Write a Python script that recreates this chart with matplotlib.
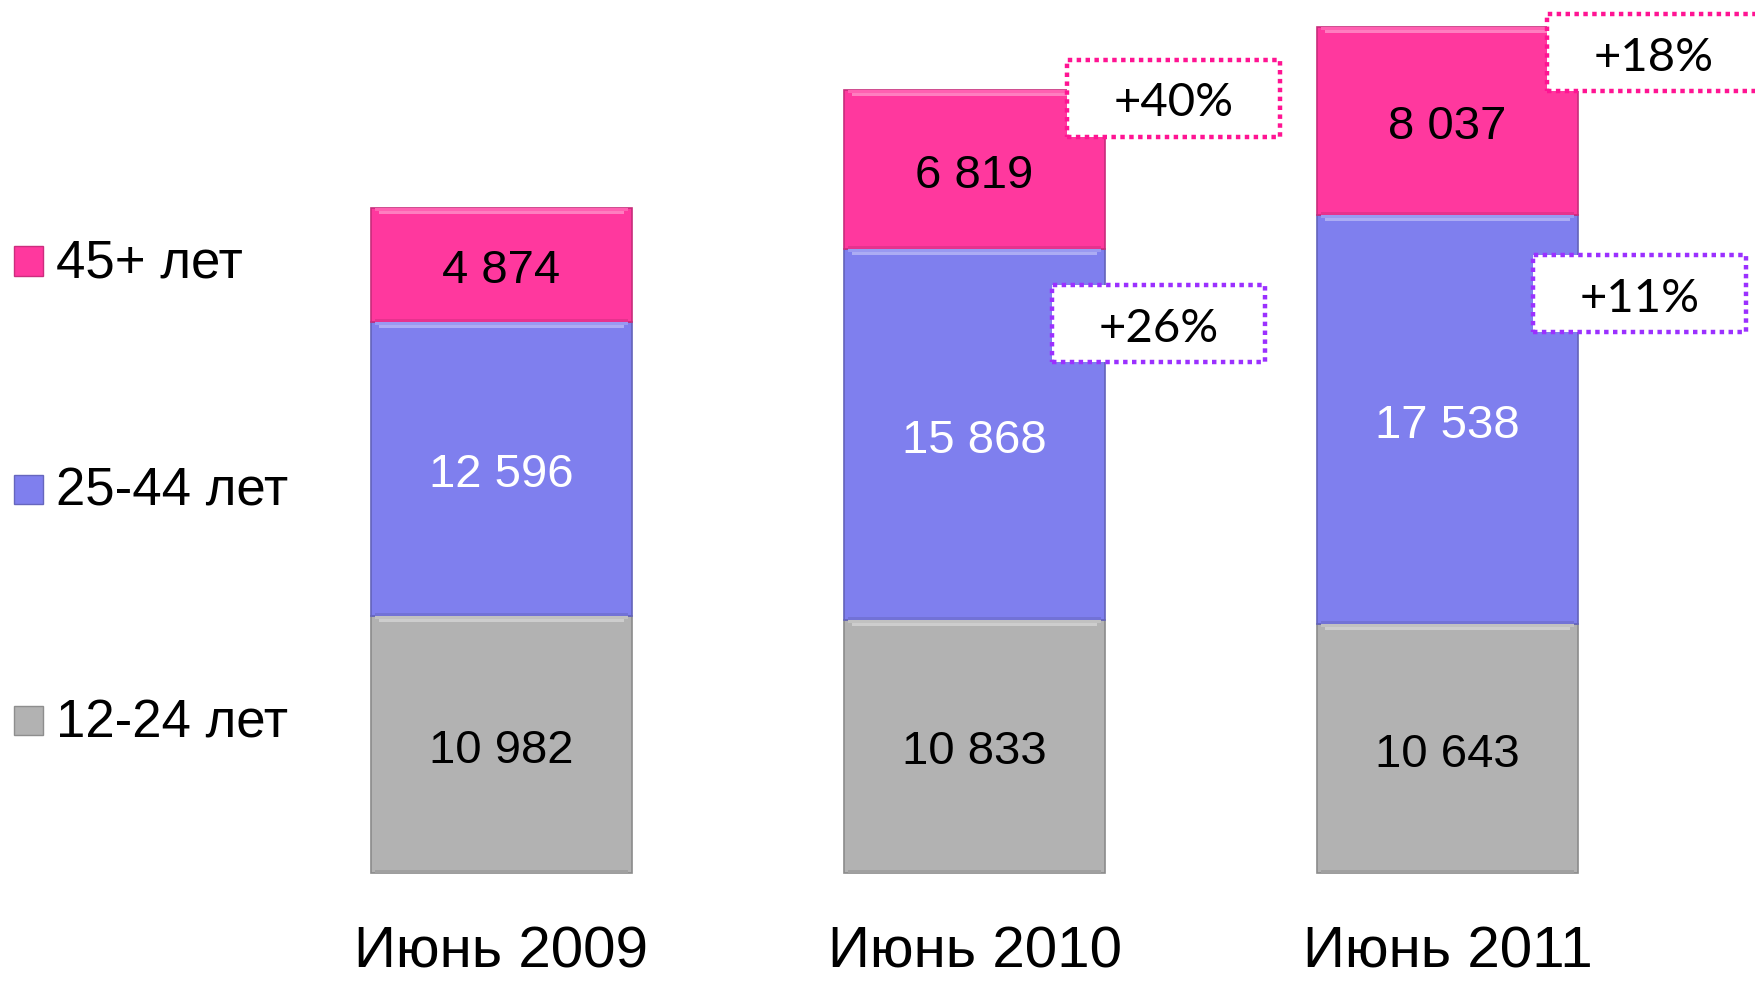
import numpy as np
import matplotlib.pyplot as plt
from matplotlib.patches import Rectangle
from matplotlib.colors import to_rgb

# Data
categories = ["Июнь 2009", "Июнь 2010", "Июнь 2011"]
series_names = ["12-24 лет", "25-44 лет", "45+ лет"]
age_12_24 = [10982, 10833, 10643]
age_25_44 = [12596, 15868, 17538]
age_45 = [4874, 6819, 8037]
growth_25_44 = ["", "+26%", "+11%"]
growth_45 = ["", "+40%", "+18%"]

colors = ["#B2B2B2", "#7F7FEE", "#FF389E"]
text_colors = ["black", "white", "black"]
box_colors = ["#9B30FF", "#FF1493"]


def fmt(v):
    return f"{v:,}".replace(",", " ")


def lighten(c, f):
    r, g, b = to_rgb(c)
    return (r + (1 - r) * f, g + (1 - g) * f, b + (1 - b) * f)


def darken(c, f):
    r, g, b = to_rgb(c)
    return (r * (1 - f), g * (1 - f), b * (1 - f))


W, H = 1756, 981
fig = plt.figure(figsize=(W / 100, H / 100), dpi=100)
ax = fig.add_axes([0, 0, 1, 1])

# pixel mapping: bar centres every 473 px starting at 501.5, baseline at y=873
px_per_unit = 0.02336
ax.set_xlim(-501.5 / 473, (W - 501.5) / 473)
ax.set_ylim(-(H - 873) / px_per_unit, 873 / px_per_unit)
ax.axis("off")


def dy(px):
    # vertical pixel offset in data units
    return px / px_per_unit


x = np.arange(len(categories))
width = 0.552
series = [age_12_24, age_25_44, age_45]
bottom = np.zeros(len(categories))

for vals, col, tc in zip(series, colors, text_colors):
    vals = np.array(vals, dtype=float)
    ax.bar(x, vals, width, bottom=bottom, color=col,
           edgecolor=darken(col, 0.22), linewidth=1.2, zorder=2)
    # bevel highlight on top of each segment
    ax.bar(x, np.full_like(vals, dy(3)), width * 0.94,
           bottom=bottom + vals - dy(6), color=lighten(col, 0.35),
           linewidth=0, zorder=3)
    ax.bar(x, np.full_like(vals, dy(3)), width * 0.97,
           bottom=bottom + vals - dy(3), color=lighten(col, 0.2),
           linewidth=0, zorder=3)
    # bevel shade at the bottom
    ax.bar(x, np.full_like(vals, dy(3)), width * 0.97,
           bottom=bottom, color=darken(col, 0.1), linewidth=0, zorder=3)
    for xi, b, v in zip(x, bottom, vals):
        ax.text(xi, b + v / 2 - dy(6), fmt(int(v)), ha="center",
                va="center", fontsize=34, color=tc,
                family="Liberation Sans", zorder=4)
    bottom += vals

# category labels
for xi, c in zip(x, categories):
    ax.text(xi, -dy(95), c, ha="center", va="baseline", fontsize=42,
            family="Liberation Sans")

# growth boxes
box_w = 213 / 473
box_h = dy(77)
box_specs = [
    (growth_45, box_colors[1], [0, 33155, 35103], [0, 0.421, 0.436]),
    (growth_25_44, box_colors[0], [0, 23502, 24807], [0, 0.390, 0.406]),
]
for labels, bc, ys, dxs in box_specs:
    for xi, lab, yc, dx in zip(x, labels, ys, dxs):
        if not lab:
            continue
        xc = xi + dx
        rect = Rectangle((xc - box_w / 2, yc - box_h / 2), box_w, box_h,
                         facecolor="white", edgecolor=bc, linewidth=3.2,
                         linestyle=(0, (1, 1)), zorder=5, clip_on=False)
        ax.add_patch(rect)
        ax.text(xc, yc - dy(5), lab, ha="center", va="center", fontsize=34,
                family="Lato", zorder=6)

# legend (manual)
leg_y_px = [720, 489, 261]
mk = 29
for name, col, py in zip(series_names, colors, leg_y_px):
    yc = (873 - py) / px_per_unit
    x0 = (14 - 501.5) / 473
    ax.add_patch(Rectangle((x0, yc - dy(mk / 2)), mk / 473, dy(mk),
                           facecolor=col, edgecolor=darken(col, 0.2),
                           linewidth=1, zorder=3))
    ax.text((56 - 501.5) / 473, yc - dy(3), name, ha="left", va="center",
            fontsize=38, family="Liberation Sans")

fig.savefig("out.png", dpi=100)
